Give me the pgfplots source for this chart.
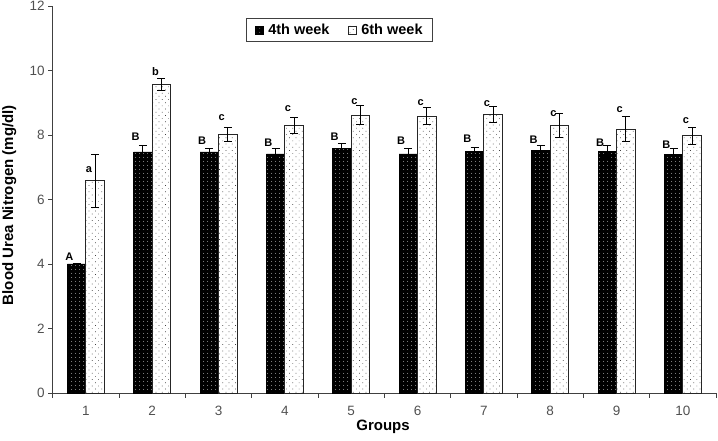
\documentclass[border=0pt]{standalone}
\usepackage{fontspec}
\setmainfont{Liberation Sans}
\usepackage{pgfplots}
\pgfplotsset{compat=1.18}
\usepackage{pgfplotstable}
\usetikzlibrary{patterns.meta}
\definecolor{axisgray}{HTML}{404040}
\definecolor{tickgray}{HTML}{505050}
\pgfplotsset{sqlegend/.style={legend image code/.code={\draw[##1] (0pt,-4pt) rectangle (8.5pt,4.5pt);}}}

\pgfplotstableread{
g w4 e4 w6 e6
1 4.01 0.02 6.59 0.82
2 7.48 0.19 9.56 0.18
3 7.48 0.10 8.01 0.22
4 7.42 0.16 8.31 0.25
5 7.58 0.17 8.62 0.29
6 7.42 0.18 8.59 0.27
7 7.49 0.14 8.64 0.24
8 7.52 0.17 8.30 0.38
9 7.49 0.19 8.19 0.39
10 7.40 0.18 7.98 0.26
}\datatable

\pgfplotstableread{
g ly4 l4 ly6 l6
1 4.11 A 6.83 a
2 7.83 B 9.84 b
3 7.70 B 8.45 c
4 7.63 B 8.71 c
5 7.83 B 8.95 c
6 7.70 B 8.91 c
7 7.77 B 8.89 c
8 7.73 B 8.56 c
9 7.65 B 8.68 c
10 7.57 B 8.35 c
}\labtable

\begin{document}
\begin{tikzpicture}
\begin{axis}[
  at={(0,0)}, anchor=south west,
  scale only axis, width=663.3pt, height=387.3pt,
  xmin=0.5, xmax=10.5, ymin=0, ymax=12,
  clip=false,
  axis x line*=bottom, axis y line*=left,
  axis line style={axisgray, line width=0.9pt},
  ytick={0,2,...,12},
  xtick={0.5,1.5,...,10.5}, xticklabels={,,,,,,,,,,,},
  extra x ticks={1,2,...,10},
  extra x tick labels={1,2,3,4,5,6,7,8,9,10},
  extra x tick style={major tick length=0pt},
  tick align=outside, major tick length=4.5pt,
  tick style={axisgray, line width=0.9pt},
  /pgf/number format/assume math mode=true,
  ticklabel style={font=\fontsize{13.5}{15}\selectfont, text=tickgray},
  xticklabel style={yshift=-9.5pt},
  ylabel={Blood Urea Nitrogen (mg/dl)},
  ylabel style={at={(axis description cs:-0.0656,0.486)}, anchor=center, font=\bfseries\fontsize{15}{17}\selectfont},
  xlabel={Groups},
  xlabel style={at={(axis description cs:0.498,-0.0966)}, anchor=base, font=\bfseries\fontsize{15}{17}\selectfont},
  legend style={at={(axis description cs:0.4326,0.937)}, anchor=center,
    draw=axisgray, line width=0.9pt, font=\bfseries\fontsize{14.5}{16}\selectfont,
    inner xsep=8pt, inner ysep=3.5pt,
    /tikz/every odd column/.append style={column sep=2.5pt},
    /tikz/every even column/.append style={column sep=16pt}},
  legend columns=2,
]
\addplot[ybar, bar width=18.5pt, bar shift=-9.25pt, fill=black, draw=black, line width=0.6pt,
  postaction={pattern={Dots[distance=4pt, radius=0.5pt]}, pattern color=white!85!black},
  sqlegend]
  table[x=g, y=w4] {\datatable};
\addlegendentry{4th week}
\addplot[ybar, bar width=18.5pt, bar shift=9.25pt, fill=white, draw=black!85, line width=0.8pt,
  postaction={pattern={Dots[angle=45, distance=4.5pt, radius=0.5pt]}, pattern color=black!75},
  sqlegend]
  table[x=g, y=w6] {\datatable};
\addlegendentry{6th week}

\addplot[draw=none, mark=none, forget plot,
  error bars/.cd, y dir=both, y explicit,
  error bar style={draw=black, line width=0.9pt},
  error mark options={rotate=90, draw=black, mark size=4pt, line width=0.9pt}]
  table[x expr=\thisrow{g}-0.1395, y=w4, y error=e4] {\datatable};
\addplot[draw=none, mark=none, forget plot,
  error bars/.cd, y dir=both, y explicit,
  error bar style={draw=black, line width=0.9pt},
  error mark options={rotate=90, draw=black, mark size=4pt, line width=0.9pt}]
  table[x expr=\thisrow{g}+0.1395, y=w6, y error=e6] {\datatable};

\addplot[only marks, mark=*, mark size=0pt, mark options={draw=none, fill=none}, forget plot,
  nodes near coords, point meta=explicit symbolic,
  every node near coord/.append style={anchor=south, inner sep=0pt, text=black, font=\bfseries\fontsize{11}{12}\selectfont}]
  table[x expr=\thisrow{g}-0.249, y=ly4, meta=l4] {\labtable};
\addplot[only marks, mark=*, mark size=0pt, mark options={draw=none, fill=none}, forget plot,
  nodes near coords, point meta=explicit symbolic,
  every node near coord/.append style={anchor=south, inner sep=0pt, text=black, font=\bfseries\fontsize{11}{12}\selectfont}]
  table[x expr=\thisrow{g}+0.048, y=ly6, meta=l6] {\labtable};
\end{axis}
\pgfresetboundingbox
\path (-52.7pt,-46.7pt) rectangle (665.3pt,393.3pt);
\end{tikzpicture}
\end{document}
